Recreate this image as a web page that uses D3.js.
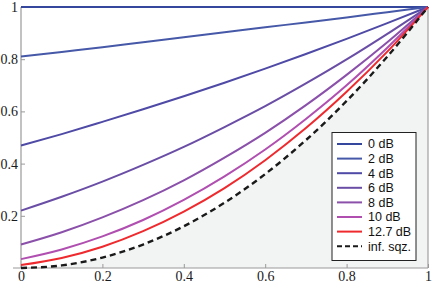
<!DOCTYPE html>
<html><head><meta charset="utf-8">
<script src="https://cdn.jsdelivr.net/npm/d3@7"></script>
<style>
html,body{margin:0;padding:0;background:#fff;}
svg{display:block;}
.tick text{font-family:"Liberation Serif","DejaVu Serif",serif !important;font-size:14px !important;fill:#1a1a1a;}
.leg text{font-family:"Liberation Sans",sans-serif;font-size:12.5px;fill:#111;}
</style>
</head><body>
<svg id="chart" width="436" height="287"></svg>
<script>
const xs = [0, 0.1, 0.2, 0.3, 0.4, 0.5, 0.6, 0.7, 0.8, 0.9, 1];
const labels = ["0 dB", "2 dB", "4 dB", "6 dB", "8 dB", "10 dB", "12.7 dB", "inf. sqz."];
const s0dB   = [1, 1, 1, 1, 1, 1, 1, 1, 1, 1, 1];
const s2dB   = [0.810, 0.828, 0.846, 0.865, 0.884, 0.903, 0.922, 0.941, 0.960, 0.980, 1];
const s4dB   = [0.469, 0.513, 0.560, 0.608, 0.658, 0.710, 0.764, 0.820, 0.878, 0.938, 1];
const s6dB   = [0.220, 0.273, 0.331, 0.395, 0.464, 0.540, 0.620, 0.707, 0.799, 0.897, 1];
const s8dB   = [0.090, 0.137, 0.194, 0.260, 0.336, 0.423, 0.518, 0.624, 0.740, 0.865, 1];
const s10dB  = [0.034, 0.071, 0.121, 0.184, 0.261, 0.351, 0.454, 0.571, 0.700, 0.844, 1];
const s127dB = [0.0114, 0.0385, 0.0816, 0.141, 0.216, 0.306, 0.413, 0.536, 0.675, 0.829, 1];
const sInf   = [0, 0.01, 0.04, 0.09, 0.16, 0.25, 0.36, 0.49, 0.64, 0.81, 1];
const xTicks = [0, 0.2, 0.4, 0.6, 0.8, 1];
const yTicks = [0.2, 0.4, 0.6, 0.8, 1];

const series = [s0dB, s2dB, s4dB, s6dB, s8dB, s10dB, s127dB, sInf];
const colors = ["#34479c", "#4658a8", "#4e4aa6", "#6a4ea6", "#8a50aa", "#b04fb0", "#ee2a2e", "#1a1a1a"];

const svg = d3.select("#chart");
const x = d3.scaleLinear().domain([0, 1]).range([21, 428]);
const y = d3.scaleLinear().domain([0, 1]).range([268, 7]);

// shaded region under the infinite squeezing curve
const area = d3.area().x((d, i) => x(xs[i])).y0(y(0)).y1(d => y(d)).curve(d3.curveMonotoneX);
svg.append("path").datum(sInf).attr("d", area).attr("fill", "#f2f3f3");

// right frame line
svg.append("line").attr("x1", x(1)).attr("x2", x(1)).attr("y1", y(1)).attr("y2", y(0))
  .attr("stroke", "#a0a0a0").attr("stroke-width", 1.2);

// axes
const xAxis = d3.axisBottom(x).tickValues(xTicks).tickSize(-4).tickPadding(3).tickFormat(d3.format("~g"));
const gx = svg.append("g").attr("transform", `translate(0,${y(0)})`).call(xAxis);
const yAxis = d3.axisLeft(y).tickValues(yTicks).tickSize(-4).tickPadding(3).tickFormat(d3.format("~g"));
const gy = svg.append("g").attr("transform", `translate(${x(0)},0)`).call(yAxis);
[gx, gy].forEach(g => {
  g.select(".domain").remove();
  g.selectAll(".tick line").attr("stroke", "#999").attr("stroke-width", 1);
});
gx.selectAll(".tick text").attr("y", 3).attr("dy", "0.72em");
gy.selectAll(".tick text").attr("x", -3).attr("dy", "0.32em");
svg.append("line").attr("x1", 13).attr("x2", x(1)).attr("y1", y(0)).attr("y2", y(0)).attr("stroke", "#999").attr("stroke-width", 1.2);
svg.append("line").attr("x1", x(0)).attr("x2", x(0)).attr("y1", y(0)).attr("y2", y(1)).attr("stroke", "#999").attr("stroke-width", 1.2);

// curves
const line = d3.line().x((d, i) => x(xs[i])).y(d => y(d)).curve(d3.curveMonotoneX);
series.forEach((s, k) => {
  svg.append("path").datum(s).attr("d", line).attr("fill", "none")
    .attr("stroke", colors[k]).attr("stroke-width", k === 7 ? 2.4 : 2)
    .attr("stroke-dasharray", k === 7 ? "6,4" : null);
});

// legend
const lg = svg.append("g").attr("class", "leg");
lg.append("rect").attr("x", 332).attr("y", 132.5).attr("width", 84).attr("height", 128)
  .attr("fill", "#fff").attr("stroke", "#222").attr("stroke-width", 1);
labels.forEach((lab, k) => {
  const yy = 144 + k * 14.6;
  lg.append("line").attr("x1", 337).attr("x2", 362).attr("y1", yy).attr("y2", yy)
    .attr("stroke", colors[k]).attr("stroke-width", 2)
    .attr("stroke-dasharray", k === 7 ? "5,3" : null);
  lg.append("text").attr("x", 368).attr("y", yy).attr("dy", "0.35em").text(lab);
});
</script>
</body></html>
